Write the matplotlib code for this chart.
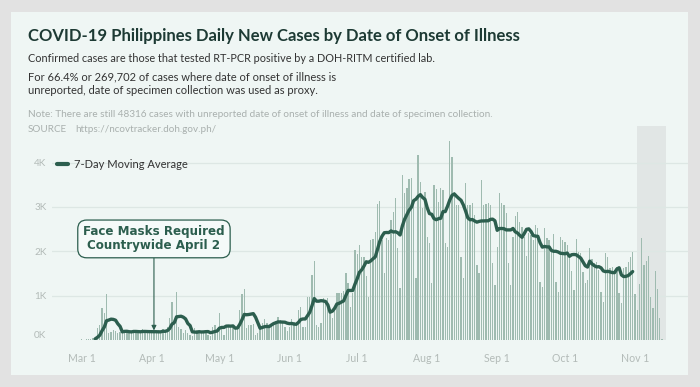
import matplotlib
matplotlib.use('Agg')
import matplotlib.pyplot as plt
import matplotlib.dates as mdates
from matplotlib.patches import Rectangle
import pandas as pd

# ---------------- data ----------------
start_date = '2020-03-01'
daily_cases = [
    20, 10, 15, 20, 30, 40, 50, 263, 338, 714, 600, 1038,
    150, 188, 225, 210, 150, 190, 170, 230, 200, 160, 180, 220, 190, 150, 200, 240, 170, 160, 210, 180, 150, 200, 220, 170,
    250, 200, 300, 500, 865, 450, 1090, 300, 250,
    150, 225, 150, 113, 100, 263, 225, 225, 188, 165, 150, 113, 90, 300, 338, 263, 616, 263, 113, 300, 316, 316, 300, 263,
    300, 680, 1038, 1143,
    263, 338, 338, 361, 113, 150, 300, 376, 466, 376, 338, 361, 376, 436, 511,
    450, 376, 300, 210, 300, 466, 414, 414, 677, 752, 300, 300, 977, 962, 1466, 1789, 338, 300, 376, 940,
    865, 940, 639, 489, 752, 1053, 1053, 1068, 1113, 1504, 1278, 752, 1053,
    2030, 1940, 2143, 1880, 1865, 1444, 962, 2256, 2271, 2444, 3068, 3143,
    2250, 1504, 2293, 2256, 2707, 2895, 3195, 2068, 1165, 3722, 3308, 3421, 3624, 3647, 3120, 1391, 4173, 3571, 2970, 3346,
    2331, 2180, 1278, 3496, 3398, 3120, 3421, 3383, 2180, 2105, 4496, 4135, 3346, 3045, 3045, 1880, 1391, 3534, 3045, 3045,
    3083, 2820, 1692,
    1504, 3609, 3045, 3068, 3083, 3045, 1729, 1241, 2105, 3323, 3083, 3045, 2857, 1729, 1241, 2331, 2797, 2895, 2669, 2556,
    2331, 1895, 2406, 2368, 2256, 2594, 2519, 1316, 1203, 2519, 2293, 2256, 2030, 2391, 1316, 1090, 2316, 2256, 2218, 2143,
    1880, 1564, 1128,
    2271, 1992, 1955, 1541, 1278, 1353, 2068, 1820, 1729, 1752, 1579, 1090, 865, 1955, 1880, 1617, 1654, 1579, 1654, 1068,
    827, 1617, 1654, 1767, 1880, 1992, 1038, 677, 1263, 2308, 1692, 1789, 1895, 977, 714, 1556, 1143, 489, 15,
]
ma_window = 7
ma_last_date = '2020-10-31'
incomplete_start = '2020-11-01 18:00'
incomplete_end = '2020-11-14 14:00'

tick_dates = ['2020-03-01', '2020-04-01', '2020-05-01', '2020-06-01', '2020-07-01',
              '2020-08-01', '2020-09-01', '2020-10-01', '2020-11-01']
tick_labels = ['Mar 1', 'Apr 1', 'May 1', 'Jun 1', 'Jul 1', 'Aug 1', 'Sep 1', 'Oct 1', 'Nov 1']
y_ticks = [0, 1000, 2000, 3000, 4000]
y_tick_labels = ['0K', '1K', '2K', '3K', '4K']

annotation_date = '2020-04-02'
annotation_text = 'Face Masks Required\nCountrywide April 2'
legend_label = '7-Day Moving Average'

title = 'COVID-19 Philippines Daily New Cases by Date of Onset of Illness'
subtitle_1 = 'Confirmed cases are those that tested RT-PCR positive by a DOH-RITM certified lab.'
subtitle_2 = 'For 66.4% or 269,702 of cases where date of onset of illness is'
subtitle_3 = 'unreported, date of specimen collection was used as proxy.'
note = 'Note: There are still 48316 cases with unreported date of onset of illness and date of specimen collection.'
source_label = 'SOURCE'
source_url = 'https://ncovtracker.doh.gov.ph/'

# ---------------- style ----------------
W, H = 700, 387
OUTER = '#e2e2e2'
PANEL = '#eff6f4'
BAR = '#9fbbb0'
LINE = '#2c5e4e'
GRID = '#dde7e4'
TICK = '#b3bbb8'
SHADE = '#e1e6e5'
FONT = 'Lato'

plt.rcParams['font.family'] = [FONT, 'DejaVu Sans']

fig = plt.figure(figsize=(W / 100, H / 100), dpi=100, facecolor=OUTER)

def fx(px):
    return px / W

def fy(py):
    return 1 - py / H

# panel
fig.patches.append(Rectangle((fx(11), fy(375)), fx(688) - fx(11), fy(12) - fy(375),
                             transform=fig.transFigure, fc=PANEL, ec='none', zorder=-5))

# axes: left 52, right 688, bottom 340, top 126 (pixels)
ax = fig.add_axes([fx(52), fy(340), fx(688) - fx(52), fy(126) - fy(340)])
ax.set_zorder(2)
ax.set_facecolor('none')

dates = pd.date_range(start_date, periods=len(daily_cases))
xnum = mdates.date2num(dates)
series = pd.Series(daily_cases, index=dates, dtype=float)
ma = series[:ma_last_date].rolling(ma_window).mean()

x0 = mdates.date2num(pd.Timestamp(start_date))
ax.set_xlim(x0 - 13.15, x0 + 268.5)
ax.set_ylim(0, 4827)

ax.axvspan(mdates.date2num(pd.Timestamp(incomplete_start)),
           mdates.date2num(pd.Timestamp(incomplete_end)), color=SHADE, zorder=0.5, lw=0)

for yt in y_ticks[1:]:
    ax.axhline(yt, color=GRID, lw=0.9, zorder=0.6)

ax.bar(xnum, series.values, width=0.58, color=BAR, zorder=1, lw=0)
line, = ax.plot(mdates.date2num(ma.index), ma.values, color=LINE, lw=2.4, zorder=3,
                solid_capstyle='round', solid_joinstyle='round')

for s in ax.spines.values():
    s.set_visible(False)
ax.set_xticks(mdates.date2num(pd.to_datetime(tick_dates)))
ax.set_xticklabels(tick_labels, color=TICK, fontsize=7.6)
ax.tick_params(axis='x', length=0, pad=9)
ax.set_yticks(y_ticks)
ax.set_yticklabels(y_tick_labels, color=TICK, fontsize=7.2)
ax.tick_params(axis='y', length=0, pad=4)
for lab in ax.get_yticklabels():
    if lab.get_text() == '0K':
        lab.set_va('bottom')

# annotation
ad = mdates.date2num(pd.Timestamp(annotation_date))
ax.annotate(annotation_text, xy=(ad, 215), xytext=(ad, 2280), ha='center', va='center',
            fontsize=8.6, fontweight='bold', color=LINE, family='DejaVu Sans', linespacing=1.1,
            bbox=dict(boxstyle='round,pad=0.45,rounding_size=0.75', fc='#f5faf9', ec=LINE, lw=0.9),
            arrowprops=dict(arrowstyle='-|>', color=LINE, lw=0.8, mutation_scale=7,
                            shrinkA=0, shrinkB=0), zorder=5)

# legend
leg = ax.legend([line], [legend_label], loc='center left', bbox_to_anchor=(fx(57), fy(164)),
                bbox_transform=fig.transFigure, frameon=False, fontsize=8, handlelength=1.0,
                handletextpad=0.5, borderpad=0, borderaxespad=0)
for t in leg.get_texts():
    t.set_color('#333333')
leg.get_lines()[0].set_linewidth(3)

# texts
fig.text(fx(28), fy(36), title, fontsize=12, fontweight='bold', color='#1d3a34', va='center')
fig.text(fx(28), fy(59), subtitle_1, fontsize=7.8, color='#333333', va='center')
fig.text(fx(28), fy(76.5), subtitle_2, fontsize=8.0, color='#333333', va='center')
fig.text(fx(28), fy(91), subtitle_3, fontsize=8.0, color='#333333', va='center')
fig.text(fx(28), fy(114), note, fontsize=7.2, color='#a9b0ae', va='center')
fig.text(fx(28), fy(130), source_label, fontsize=7.1, color='#a9b0ae', va='center')
fig.text(fx(75), fy(130), source_url, fontsize=7.1, color='#a9b0ae', va='center')

fig.savefig('out.png', dpi=100, facecolor=OUTER)
